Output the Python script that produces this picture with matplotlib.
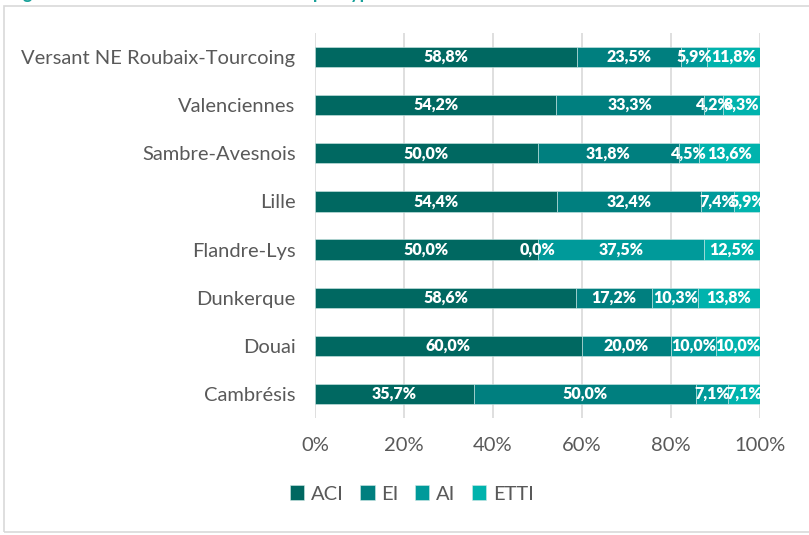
import matplotlib
matplotlib.use("Agg")
import matplotlib.pyplot as plt
import matplotlib.patches as mpatches
import numpy as np

territoires = ["Versant NE Roubaix-Tourcoing", "Valenciennes", "Sambre-Avesnois", "Lille",
               "Flandre-Lys", "Dunkerque", "Douai", "Cambrésis"]
aci = [58.8, 54.2, 50.0, 54.4, 50.0, 58.6, 60.0, 35.7]
ei = [23.5, 33.3, 31.8, 32.4, 0.0, 17.2, 20.0, 50.0]
ai = [5.9, 4.2, 4.5, 7.4, 37.5, 10.3, 10.0, 7.1]
etti = [11.8, 8.3, 13.6, 5.9, 12.5, 13.8, 10.0, 7.1]

series = [("ACI", aci), ("EI", ei), ("AI", ai), ("ETTI", etti)]
colors = ["#006861", "#007F7F", "#009A9A", "#00B3AD"]
xticks = [0, 20, 40, 60, 80, 100]

plt.rcParams["font.family"] = ["Lato", "DejaVu Sans"]

fig = plt.figure(figsize=(8.09, 5.35), dpi=100)
# frame around the chart
fig.patches.append(mpatches.Rectangle((4 / 809, 1 - 532 / 535), 1.0, (532 - 6) / 535,
                                      transform=fig.transFigure, fill=False,
                                      edgecolor="#D9D9D9", linewidth=1.2))
# cut-off caption at the top
fig.text(8 / 809, 1 + 1.5 / 535, "Figure 8 : Nombre de SIAE en activité par type",
         color="#1AA19A", fontsize=13, fontweight="bold", va="baseline", ha="left")

ax = fig.add_axes([315 / 809, 1 - 418 / 535, 445 / 809, 385 / 535])

y = np.arange(len(territoires))[::-1]
left = np.zeros(len(territoires))
for (name, vals), col in zip(series, colors):
    vals = np.array(vals)
    ax.barh(y, vals, left=left, height=0.42, color=col, label=name,
            edgecolor="#CFE8E6", linewidth=0.4)
    for yi, l, v in zip(y, left, vals):
        ax.text(l + v / 2, yi, f"{v:.1f}%".replace(".", ","), ha="center", va="center",
                color="white", fontsize=11.5, fontweight="heavy")
    left = left + vals

ax.set_xlim(0, 100)
ax.set_ylim(-0.5, len(territoires) - 0.5)
ax.set_yticks(y)
ax.set_yticklabels(territoires, fontsize=14.5, color="#595959")
ax.set_xticks(xticks)
ax.set_xticklabels([f"{t}%" for t in xticks], fontsize=14.5, color="#595959")
ax.tick_params(length=0)
ax.tick_params(axis="x", pad=14)
ax.tick_params(axis="y", pad=14)
ax.grid(axis="x", color="#D9D9D9", linewidth=1.2)
ax.set_axisbelow(True)
for s in ax.spines.values():
    s.set_visible(False)

fig.legend(loc="center", bbox_to_anchor=(412 / 809, 1 - 494 / 535), ncol=4, frameon=False,
           fontsize=14.5, labelcolor="#595959", handlelength=0.7, handleheight=0.7,
           handletextpad=0.35, columnspacing=0.8)

fig.savefig("out.png", dpi=100)
